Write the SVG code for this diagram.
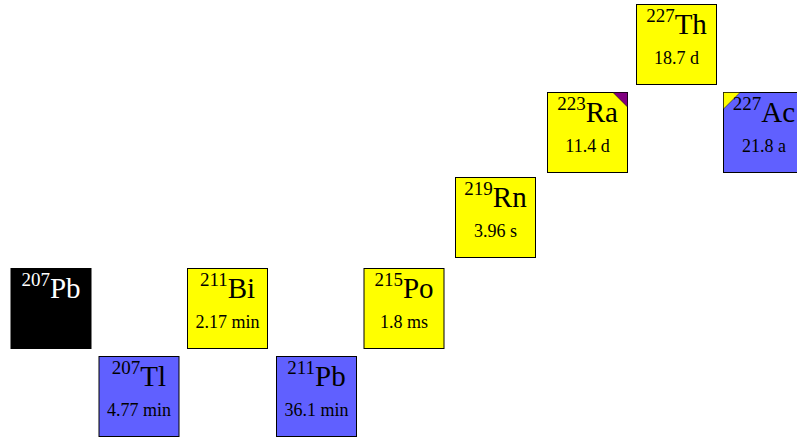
<svg xmlns="http://www.w3.org/2000/svg" width="797" height="439" viewBox="0 0 797 439">
<style>
.box{stroke:#000;stroke-width:1}
.y{fill:#ffff00}
.b{fill:#6060ff}
.k{fill:#000}
text{font-family:"Liberation Serif","Times New Roman",serif;text-anchor:middle;fill:#000}
.m{font-size:19px}
.s{font-size:29px}
.h{font-size:18px}
.w{fill:#fff}
</style>
<rect width="797" height="439" fill="#fff"/>
<g id="connectors"/>
<g id="Pb207">
<rect class="box k" x="11" y="268.5" width="80" height="80"/>
<text class="w" x="51" y="298"><tspan class="m" dy="-12">207</tspan><tspan class="s" dy="12">Pb</tspan></text>
</g>
<g id="Tl207">
<rect class="box b" x="99" y="356.5" width="80" height="80"/>
<text x="139" y="386"><tspan class="m" dy="-12">207</tspan><tspan class="s" dy="12">Tl</tspan></text>
<text class="h" x="139" y="416">4.77 min</text>
</g>
<g id="Bi211">
<rect class="box y" x="187.5" y="268.5" width="80" height="80"/>
<text x="227.5" y="298"><tspan class="m" dy="-12">211</tspan><tspan class="s" dy="12">Bi</tspan></text>
<text class="h" x="227.5" y="328">2.17 min</text>
</g>
<g id="Pb211">
<rect class="box b" x="276.5" y="356.5" width="80" height="80"/>
<text x="316.5" y="386"><tspan class="m" dy="-12">211</tspan><tspan class="s" dy="12">Pb</tspan></text>
<text class="h" x="316.5" y="416">36.1 min</text>
</g>
<g id="Po215">
<rect class="box y" x="364" y="268.5" width="80" height="80"/>
<text x="404" y="298"><tspan class="m" dy="-12">215</tspan><tspan class="s" dy="12">Po</tspan></text>
<text class="h" x="404" y="328">1.8 ms</text>
</g>
<g id="Rn219">
<rect class="box y" x="455.5" y="177.5" width="80" height="80"/>
<text x="495.5" y="207"><tspan class="m" dy="-12">219</tspan><tspan class="s" dy="12">Rn</tspan></text>
<text class="h" x="495.5" y="237">3.96 s</text>
</g>
<g id="Ra223">
<rect class="box y" x="547.5" y="92.5" width="80" height="80"/>
<polygon points="613,92.5 627.5,92.5 627.5,107" fill="#800080" stroke="#000" stroke-width="0.5"/>
<text x="587.5" y="122"><tspan class="m" dy="-12">223</tspan><tspan class="s" dy="12">Ra</tspan></text>
<text class="h" x="587.5" y="152">11.4 d</text>
</g>
<g id="Th227">
<rect class="box y" x="636.5" y="4.5" width="80" height="80"/>
<text x="676.5" y="34"><tspan class="m" dy="-12">227</tspan><tspan class="s" dy="12">Th</tspan></text>
<text class="h" x="676.5" y="64">18.7 d</text>
</g>
<g id="Ac227">
<rect class="box b" x="723.5" y="92.5" width="80" height="80"/>
<polygon points="723.5,92.5 740,92.5 723.5,109" fill="#ffff00" stroke="#000" stroke-width="0.5"/>
<text x="764" y="122"><tspan class="m" dy="-12">227</tspan><tspan class="s" dy="12">Ac</tspan></text>
<text class="h" x="764" y="152">21.8 a</text>
</g>
</svg>
